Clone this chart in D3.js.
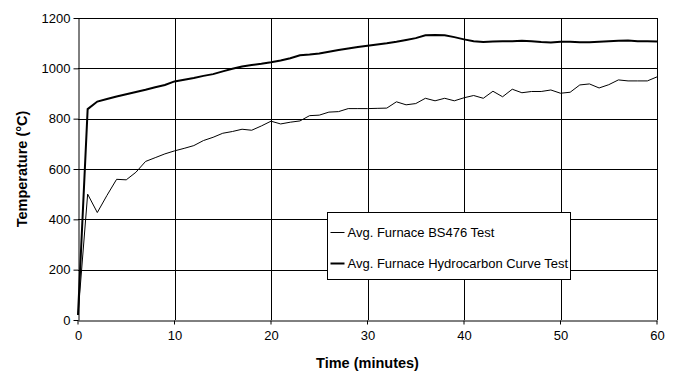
<!DOCTYPE html>
<html>
<head>
<meta charset="utf-8">
<script src="https://cdn.jsdelivr.net/npm/d3@7"></script>
<style>
  body { margin: 0; background: #fff; }
  svg { display: block; font-family: "Liberation Sans", Arial, sans-serif; }
</style>
</head>
<body>
<script>
// minutes 0..60, one reading per minute
const minutes = d3.range(0, 61);
const bs476 = [20, 500, 427, 495, 559, 557, 587, 630, 645, 660, 672, 682, 693, 713, 726, 742, 749, 758, 754, 771,
  790, 779, 786, 791, 812, 814, 826, 828, 840, 840, 840, 841, 842, 867, 855, 860, 881, 871, 881, 871,
  883, 892, 881, 909, 887, 917, 903, 908, 908, 914, 901, 905, 934, 938, 922, 935, 954, 950, 950, 950, 966];
const hydrocarbon = [20, 838, 868, 878, 888, 897, 906, 915, 925, 934, 948, 955, 962, 970, 977, 988, 998, 1007, 1013, 1018,
  1024, 1031, 1040, 1052, 1055, 1059, 1066, 1073, 1079, 1085, 1090, 1095, 1100, 1106, 1113, 1120, 1131, 1132, 1131, 1124,
  1115, 1108, 1105, 1107, 1108, 1108, 1110, 1108, 1105, 1103, 1106, 1106, 1104, 1104, 1106, 1108, 1110, 1111, 1108, 1108, 1107];
const xTicks = [0, 10, 20, 30, 40, 50, 60];
const yTicks = [0, 200, 400, 600, 800, 1000, 1200];
const seriesNames = ["Avg. Furnace BS476 Test", "Avg. Furnace Hydrocarbon Curve Test"];

const width = 676, height = 374;
const margin = {top: 18, right: 19, bottom: 54, left: 78};
const font = "'Liberation Sans', Arial, sans-serif";

const svg = d3.select("body").append("svg")
  .attr("width", width).attr("height", height);

const x = d3.scaleLinear().domain([0, 60]).range([margin.left, width - margin.right]);
const y = d3.scaleLinear().domain([0, 1200]).range([height - margin.bottom, margin.top]);

// grid
svg.append("g").selectAll("line").data(yTicks.slice(1)).join("line")
  .attr("x1", x(0)).attr("x2", x(60))
  .attr("y1", d => Math.round(y(d)) + 0.5).attr("y2", d => Math.round(y(d)) + 0.5)
  .attr("stroke", "#000");
svg.append("g").selectAll("line").data(xTicks.slice(1)).join("line")
  .attr("y1", y(0)).attr("y2", y(1200))
  .attr("x1", d => Math.round(x(d)) + 0.5).attr("x2", d => Math.round(x(d)) + 0.5)
  .attr("stroke", "#000");

// axes
const xAxis = svg.append("g")
  .attr("transform", `translate(0,${Math.round(y(0)) + 0.5})`)
  .call(d3.axisBottom(x).tickValues(xTicks).tickSize(4).tickPadding(6).tickSizeOuter(0));
const yAxis = svg.append("g")
  .attr("transform", `translate(${Math.round(x(0)) + 0.5},0)`)
  .call(d3.axisLeft(y).tickValues(yTicks).tickFormat(d3.format("d"))
    .tickSize(5).tickPadding(3).tickSizeOuter(0));
[xAxis, yAxis].forEach(a => {
  a.attr("font-family", font).attr("font-size", 13);
  a.selectAll("path, line").attr("stroke", "#000");
  a.selectAll("text").attr("fill", "#000");
});
xAxis.selectAll(".tick line").attr("transform", "translate(-0.5,0)");

// lines
const line = d3.line().x((d, i) => x(minutes[i])).y(d => y(d));
svg.append("path").datum(bs476)
  .attr("d", line).attr("fill", "none").attr("stroke", "#000").attr("stroke-width", 1);
svg.append("path").datum(hydrocarbon)
  .attr("d", line).attr("fill", "none").attr("stroke", "#000").attr("stroke-width", 2);

// axis titles
svg.append("text")
  .attr("x", (x(0) + x(60)) / 2).attr("y", 368)
  .attr("text-anchor", "middle").style("font-size", "14.5px").style("font-weight", "bold")
  .text("Time (minutes)");
svg.append("text")
  .attr("transform", `translate(27,${(y(0) + y(1200)) / 2}) rotate(-90)`)
  .attr("text-anchor", "middle").style("font-size", "14.5px").style("font-weight", "bold")
  .text("Temperature (°C)");

// legend
const lg = svg.append("g").attr("transform", "translate(327.5,212.5)");
lg.append("rect").attr("width", 243).attr("height", 67)
  .attr("fill", "#fff").attr("stroke", "#000");
seriesNames.forEach((name, i) => {
  const ly = 20 + i * 31;
  lg.append("line").attr("x1", 3).attr("x2", 17).attr("y1", ly).attr("y2", ly)
    .attr("stroke", "#000").attr("stroke-width", i === 0 ? 1 : 2);
  lg.append("text").attr("x", 20).attr("y", ly + 4.5)
    .style("font-size", "13px").text(name);
});
</script>
</body>
</html>
